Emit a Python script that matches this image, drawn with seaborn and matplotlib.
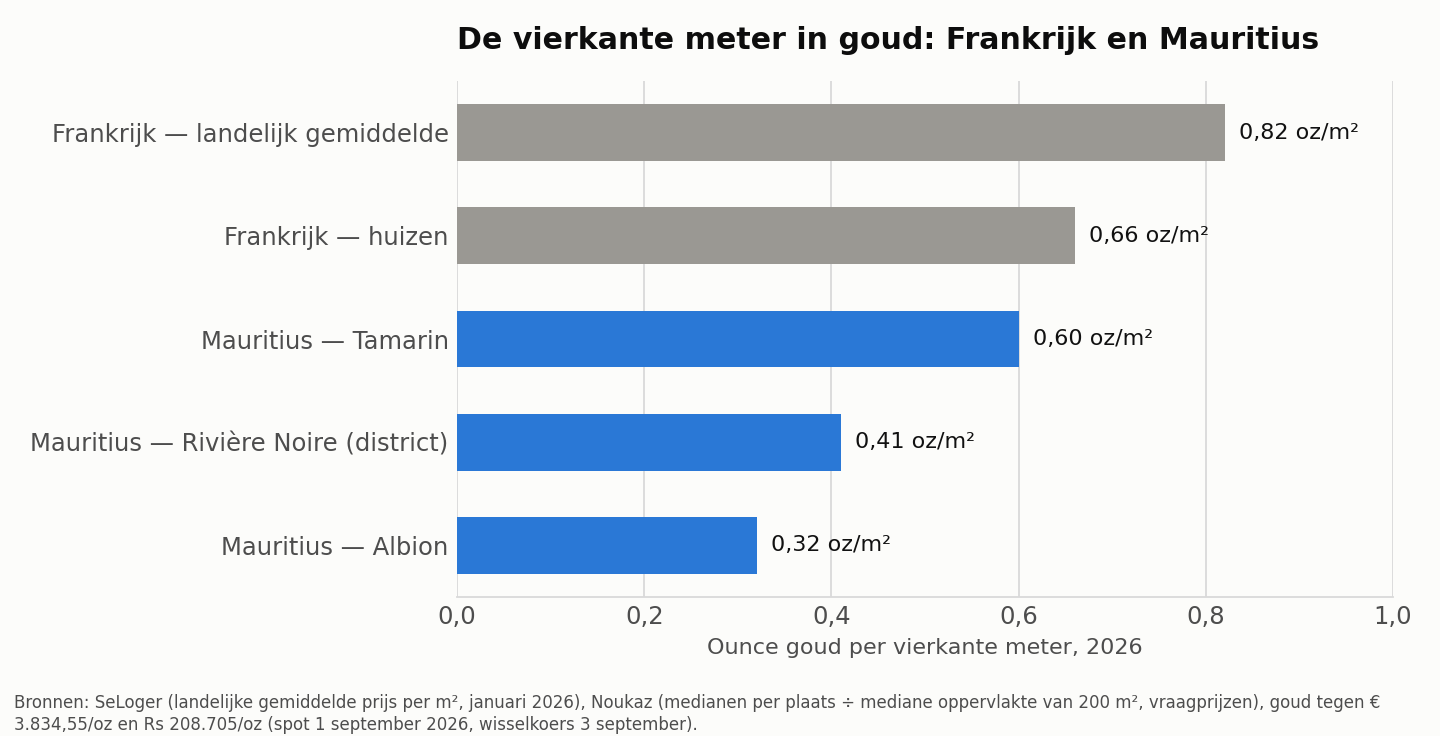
import matplotlib
matplotlib.use("Agg")
import matplotlib.pyplot as plt
import seaborn as sns
import pandas as pd

# gegevens
categories = [
    "Frankrijk — landelijk gemiddelde",
    "Frankrijk — huizen",
    "Mauritius — Tamarin",
    "Mauritius — Rivière Noire (district)",
    "Mauritius — Albion",
]
values = [0.82, 0.66, 0.60, 0.41, 0.32]
groups = ["Frankrijk", "Frankrijk", "Mauritius", "Mauritius", "Mauritius"]
xticks = [0.0, 0.2, 0.4, 0.6, 0.8, 1.0]

title = "De vierkante meter in goud: Frankrijk en Mauritius"
xlabel = "Ounce goud per vierkante meter, 2026"
source = ("Bronnen: SeLoger (landelijke gemiddelde prijs per m², januari 2026), Noukaz (medianen per plaats ÷ "
          "mediane oppervlakte van 200 m², vraagprijzen), goud tegen €\n3.834,55/oz en Rs 208.705/oz "
          "(spot 1 september 2026, wisselkoers 3 september).")

df = pd.DataFrame({"cat": categories, "val": values, "grp": groups})
palette = {"Frankrijk": "#9a9893", "Mauritius": "#2a78d6"}

bg = "#fcfcfa"
sns.set_theme(style="white")
plt.rcParams["font.family"] = ["DejaVu Sans"]

fig, ax = plt.subplots(figsize=(14.4, 7.36), dpi=100)
fig.patch.set_facecolor(bg)
ax.set_facecolor(bg)
fig.subplots_adjust(left=0.3174, right=0.9674, top=0.8899, bottom=0.1889)

sns.barplot(data=df, x="val", y="cat", hue="grp", palette=palette, dodge=False,
            width=0.55, legend=False, ax=ax, saturation=1, linewidth=0)

ax.set_xlim(0, 1.0)
ax.set_xticks(xticks)
ax.set_xticklabels([f"{t:.1f}".replace(".", ",") for t in xticks])
ax.xaxis.grid(True, color="#d9d9d9", linewidth=1.3)
ax.set_axisbelow(True)
for s in ["top", "right", "left"]:
    ax.spines[s].set_visible(False)
ax.spines["bottom"].set_color("#d9d9d9")
ax.spines["bottom"].set_linewidth(1.3)

ax.tick_params(axis="x", labelsize=17.5, labelcolor="#4d4d4d", length=0, pad=6)
ax.tick_params(axis="y", labelsize=17.5, labelcolor="#4d4d4d", length=0, pad=6)
ax.set_ylabel("")
ax.set_xlabel(xlabel, fontsize=16, color="#4d4d4d", labelpad=6)

for i, v in enumerate(values):
    ax.text(v + 0.015, i, f"{v:.2f}".replace(".", ",") + " oz/m²", va="center", ha="left",
            fontsize=16, color="#111111")

ax.set_title(title, loc="left", fontsize=21.6, fontweight="bold", color="#0d0d0d", pad=23)

fig.text(14 / 1440, 2 / 736, source, ha="left", va="bottom", fontsize=12, color="#4d4d4d",
         linespacing=1.25)

fig.savefig("out.png", dpi=100, facecolor=bg)
